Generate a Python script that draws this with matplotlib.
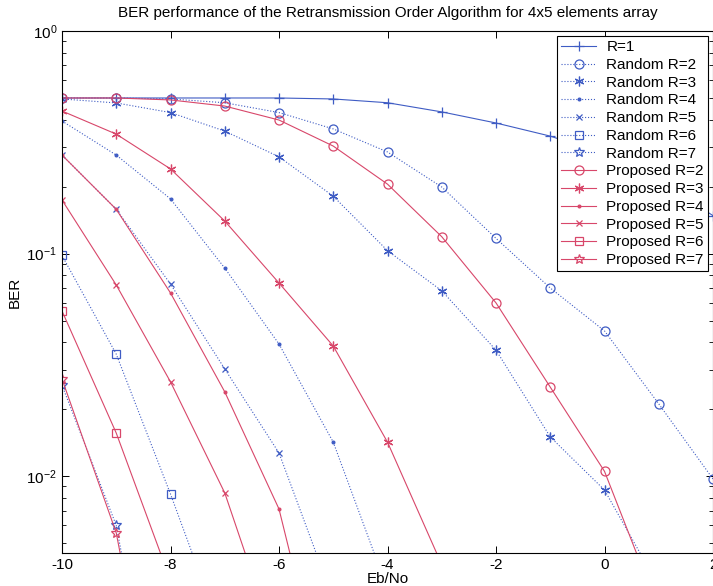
import matplotlib
matplotlib.use("Agg")
import matplotlib.pyplot as plt
from matplotlib.ticker import LogLocator, NullFormatter

plt.rcParams["font.family"] = ["Liberation Sans", "DejaVu Sans"]
plt.rcParams["mathtext.default"] = "regular"
plt.rcParams["axes.unicode_minus"] = False

# Eb/No axis (dB)
snr = [-10, -9, -8, -7, -6, -5, -4, -3, -2, -1, 0, 1, 2]

# BER values; each series starts at -10 dB
r1 = [0.5, 0.5, 0.5, 0.5, 0.5, 0.495, 0.476, 0.433, 0.386, 0.337, 0.28, 0.213, 0.148]
rand_r2 = [0.5, 0.5, 0.495, 0.476, 0.43, 0.363, 0.286, 0.199, 0.117, 0.070, 0.0449, 0.0211, 0.0097]
rand_r3 = [0.495, 0.475, 0.43, 0.355, 0.272, 0.181, 0.103, 0.068, 0.0368, 0.015, 0.00865, 0.0032]
rand_r4 = [0.394, 0.277, 0.176, 0.086, 0.0392, 0.0142, 0.0031]
rand_r5 = [0.277, 0.158, 0.0729, 0.0303, 0.0127, 0.0028]
rand_r6 = [0.098, 0.0353, 0.0083, 0.0018]
rand_r7 = [0.0256, 0.0060, 0.0003]
prop_r2 = [0.5, 0.5, 0.49, 0.46, 0.398, 0.304, 0.205, 0.119, 0.06, 0.0251, 0.0105, 0.0025]
prop_r3 = [0.437, 0.344, 0.24, 0.14, 0.0737, 0.0384, 0.0142, 0.0040]
prop_r4 = [0.277, 0.158, 0.0665, 0.0239, 0.00711, 0.00073]
prop_r5 = [0.174, 0.0722, 0.0265, 0.0084, 0.0016]
prop_r6 = [0.0552, 0.0156, 0.0034]
prop_r7 = [0.0273, 0.00555, 0.0003]

BLUE = "#3f5cc4"
RED = "#d8476a"
ASTERISK = (6, 2, 0)

# (values, color, linestyle, marker, markersize, label)
series = [
    (r1, BLUE, "-", "+", 7, "R=1"),
    (rand_r2, BLUE, ":", "o", 6.5, "Random R=2"),
    (rand_r3, BLUE, ":", ASTERISK, 7, "Random R=3"),
    (rand_r4, BLUE, ":", ".", 4, "Random R=4"),
    (rand_r5, BLUE, ":", "x", 5, "Random R=5"),
    (rand_r6, BLUE, ":", "s", 6, "Random R=6"),
    (rand_r7, BLUE, ":", "*", 7, "Random R=7"),
    (prop_r2, RED, "-", "o", 6.5, "Proposed R=2"),
    (prop_r3, RED, "-", ASTERISK, 7, "Proposed R=3"),
    (prop_r4, RED, "-", ".", 4, "Proposed R=4"),
    (prop_r5, RED, "-", "x", 5, "Proposed R=5"),
    (prop_r6, RED, "-", "s", 6, "Proposed R=6"),
    (prop_r7, RED, "-", "*", 7, "Proposed R=7"),
]

fig = plt.figure(figsize=(7.13, 5.86), dpi=100)
ax = fig.add_axes([62 / 713, 1 - 553 / 586, 651 / 713, 522 / 586])

for vals, color, ls, marker, ms, label in series:
    filled = marker in (".", "x", "+", ASTERISK)
    ax.semilogy(
        snr[: len(vals)],
        vals,
        color=color,
        linestyle=ls,
        linewidth=0.8,
        marker=marker,
        markersize=ms,
        markerfacecolor=color if filled else "none",
        markeredgecolor=color,
        markeredgewidth=0.9,
        label=label,
    )

ax.set_xlim(-10, 2)
ax.set_ylim(0.00451, 1)
ax.set_xticks([-10, -8, -6, -4, -2, 0, 2])
ax.yaxis.set_major_locator(LogLocator(base=10, numticks=10))
ax.yaxis.set_minor_locator(LogLocator(base=10, subs=range(2, 10), numticks=20))
ax.yaxis.set_minor_formatter(NullFormatter())
ax.tick_params(which="both", direction="in", top=True, right=True, labelsize=11)
ax.tick_params(which="major", length=5, width=0.7)
ax.tick_params(which="minor", length=3, width=0.6)
for spine in ax.spines.values():
    spine.set_linewidth(0.8)

ax.set_title(
    "BER performance of the Retransmission Order Algorithm for 4x5 elements array",
    fontsize=11,
    pad=10,
)
ax.set_xlabel("Eb/No", fontsize=11, labelpad=0)
ax.set_ylabel("BER", fontsize=11, labelpad=3)

leg = ax.legend(
    loc="upper right",
    fontsize=11,
    labelspacing=0.245,
    handlelength=2.3,
    handletextpad=0.65,
    borderpad=0.25,
    borderaxespad=0.35,
    fancybox=False,
    framealpha=1,
)
leg.get_frame().set_edgecolor("black")
leg.get_frame().set_linewidth(0.8)

fig.savefig("out.png", dpi=100)
